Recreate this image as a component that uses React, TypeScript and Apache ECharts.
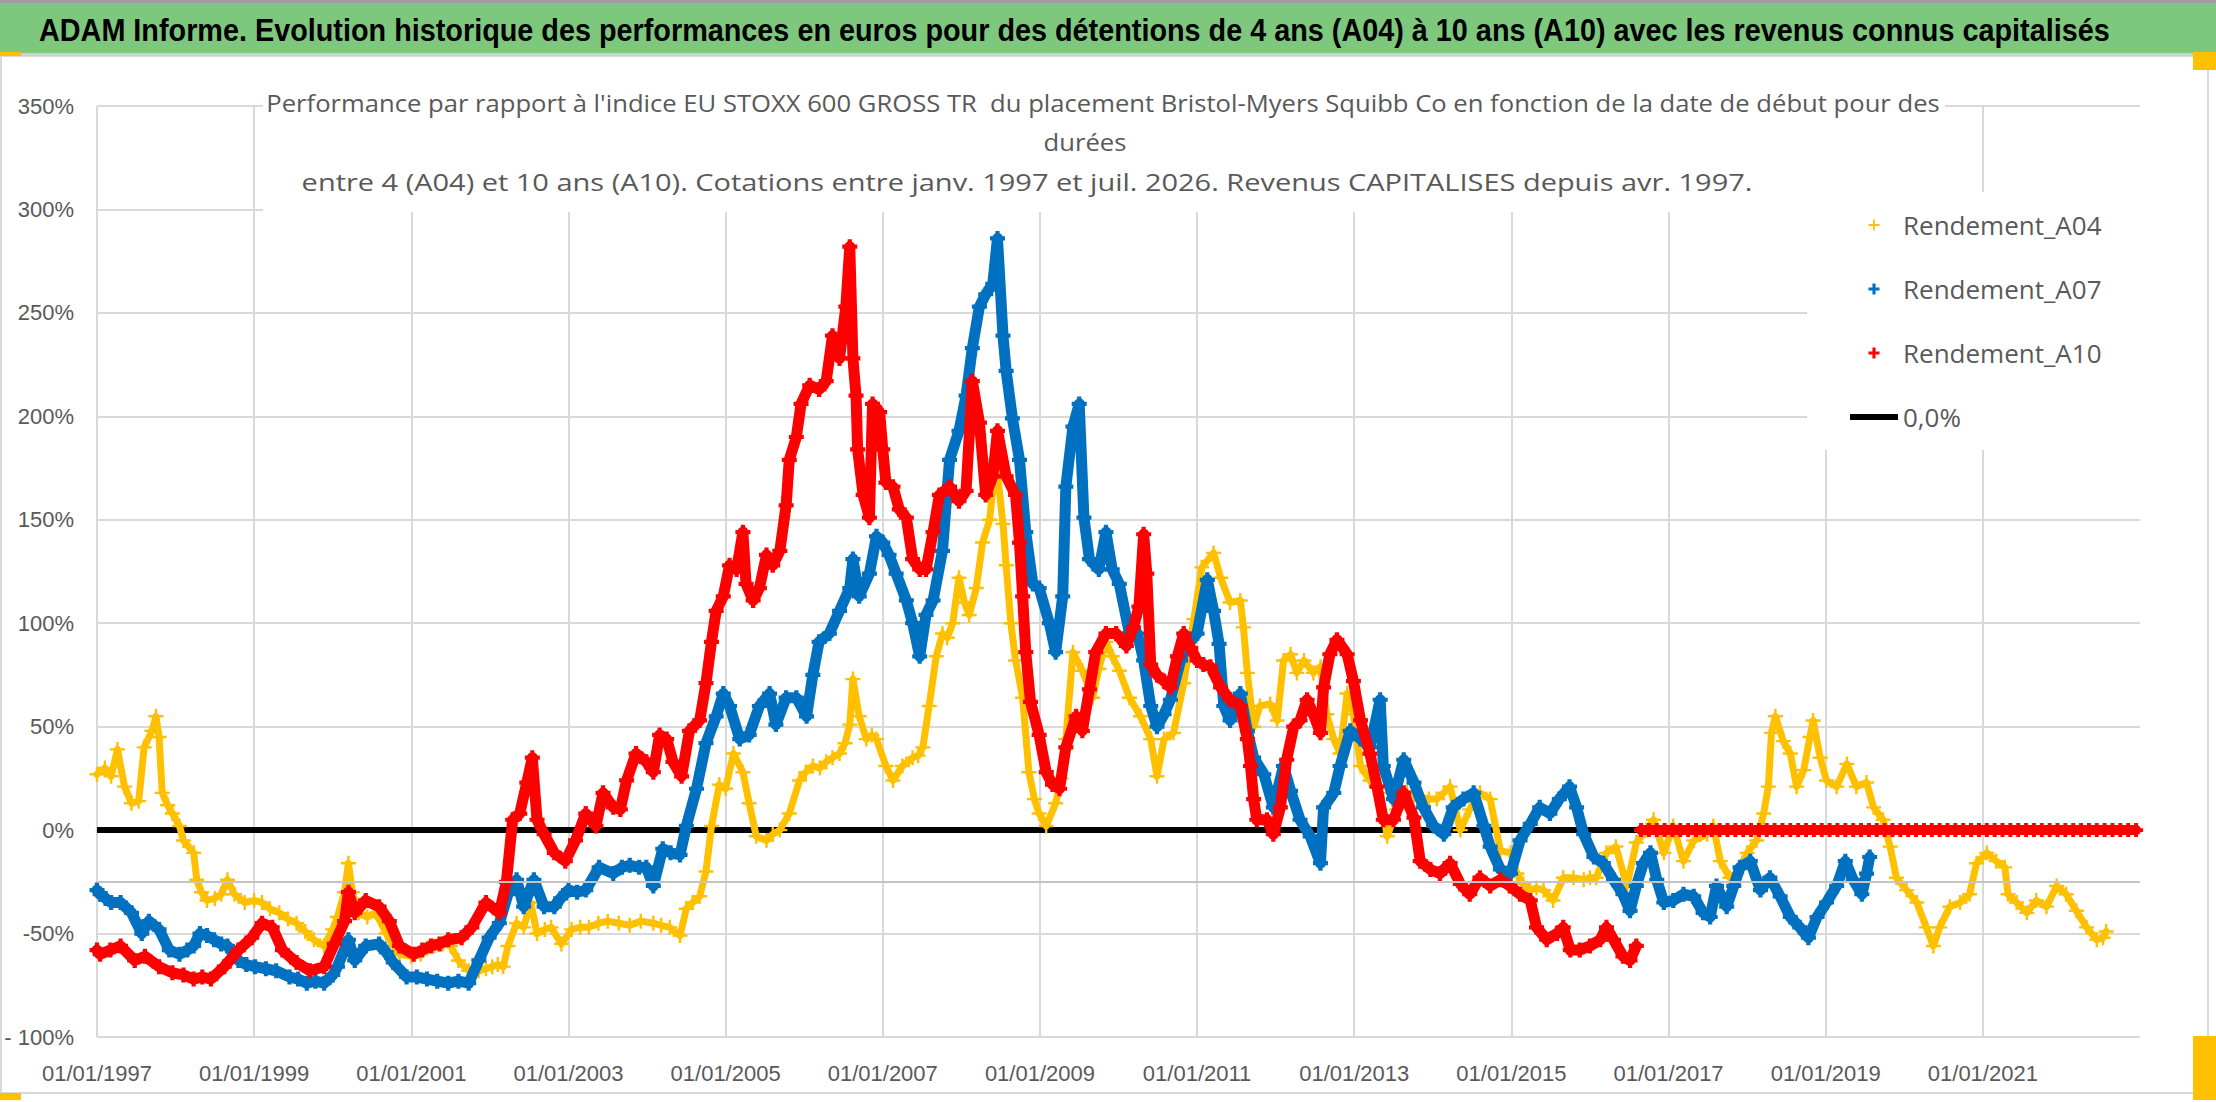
import React, { useEffect, useRef } from "react";
import * as echarts from "echarts";

// ---- Data (year as decimal, value in %) ----
const A04: [number, number][] = [
  [1997.0, 27], [1997.1, 30], [1997.18, 26], [1997.26, 39], [1997.35, 21], [1997.44, 13], [1997.53, 14], [1997.6, 40],
  [1997.7, 48], [1997.75, 55], [1997.79, 45], [1997.83, 18], [1997.9, 12], [1997.96, 8], [1998.05, 2], [1998.1, -5],
  [1998.23, -11], [1998.27, -24], [1998.33, -30], [1998.4, -34], [1998.5, -33], [1998.58, -31], [1998.66, -24], [1998.75, -31],
  [1998.88, -35], [1999.0, -34], [1999.1, -35], [1999.2, -38], [1999.32, -40], [1999.43, -43], [1999.54, -45], [1999.65, -49],
  [1999.76, -53], [1999.89, -56], [2000.0, -48], [2000.06, -42], [2000.15, -30], [2000.2, -16], [2000.25, -30], [2000.33, -40],
  [2000.44, -42], [2000.55, -40], [2000.68, -50], [2000.77, -56], [2000.85, -60], [2001.0, -61], [2001.12, -60], [2001.2, -57],
  [2001.29, -56], [2001.4, -55], [2001.5, -56], [2001.6, -63], [2001.73, -68], [2001.86, -68], [2001.95, -67], [2002.03, -66],
  [2002.1, -65], [2002.17, -66], [2002.23, -56], [2002.34, -45], [2002.43, -47], [2002.52, -35], [2002.6, -50], [2002.7, -48],
  [2002.78, -47], [2002.91, -55], [2003.04, -48], [2003.15, -47], [2003.26, -47], [2003.38, -45], [2003.5, -44], [2003.64, -45],
  [2003.78, -46], [2003.92, -44], [2004.08, -45], [2004.18, -46], [2004.29, -47], [2004.42, -51], [2004.5, -38], [2004.58, -35],
  [2004.67, -32], [2004.75, -20], [2004.82, 2], [2004.92, 22], [2005.0, 20], [2005.1, 37], [2005.22, 28], [2005.3, 13],
  [2005.39, -3], [2005.52, -5], [2005.6, -2], [2005.69, 0], [2005.81, 8], [2005.94, 24], [2006.02, 28], [2006.11, 31],
  [2006.2, 30], [2006.28, 33], [2006.36, 35], [2006.45, 37], [2006.52, 42], [2006.58, 51], [2006.62, 73], [2006.7, 55],
  [2006.79, 44], [2006.86, 46], [2006.92, 44], [2007.04, 31], [2007.13, 24], [2007.25, 31], [2007.38, 35], [2007.45, 36],
  [2007.51, 40], [2007.59, 60], [2007.68, 84], [2007.76, 95], [2007.82, 93], [2007.89, 100], [2007.97, 122], [2008.04, 110],
  [2008.1, 104], [2008.19, 117], [2008.27, 139], [2008.36, 150], [2008.44, 179], [2008.53, 148], [2008.57, 128], [2008.63, 100],
  [2008.69, 82], [2008.78, 64], [2008.86, 28], [2008.93, 15], [2008.99, 8], [2009.08, 2], [2009.2, 13], [2009.27, 25],
  [2009.33, 44], [2009.42, 86], [2009.54, 77], [2009.67, 64], [2009.75, 78], [2009.84, 91], [2009.92, 84], [2010.01, 77],
  [2010.14, 64], [2010.28, 55], [2010.41, 44], [2010.49, 26], [2010.58, 44], [2010.7, 47], [2010.83, 71], [2010.96, 102],
  [2011.06, 127], [2011.21, 134], [2011.3, 122], [2011.42, 110], [2011.55, 111], [2011.59, 98], [2011.64, 76], [2011.72, 50],
  [2011.8, 60], [2011.93, 61], [2012.02, 53], [2012.1, 82], [2012.19, 85], [2012.27, 76], [2012.36, 82], [2012.48, 76],
  [2012.57, 79], [2012.65, 56], [2012.74, 44], [2012.82, 37], [2012.91, 66], [2012.99, 56], [2013.08, 31], [2013.2, 24],
  [2013.33, 18], [2013.42, -3], [2013.54, 10], [2013.67, 18], [2013.76, 17], [2013.84, 16], [2013.95, 15], [2014.05, 15],
  [2014.14, 18], [2014.22, 21], [2014.35, 0], [2014.47, 10], [2014.6, 18], [2014.73, 15], [2014.86, -10], [2014.99, -11],
  [2015.07, -21], [2015.15, -26], [2015.24, -29], [2015.32, -28], [2015.41, -29], [2015.53, -34], [2015.66, -23], [2015.79, -23],
  [2015.92, -24], [2016.0, -23], [2016.08, -23], [2016.21, -11], [2016.33, -8], [2016.47, -27], [2016.59, -6], [2016.72, 0],
  [2016.81, 5], [2016.94, -11], [2017.06, 2], [2017.19, -15], [2017.32, -5], [2017.49, -2], [2017.57, 2], [2017.66, -15],
  [2017.78, -23], [2017.87, -21], [2018.0, -11], [2018.12, -5], [2018.21, 8], [2018.27, 21], [2018.31, 47], [2018.36, 55],
  [2018.46, 43], [2018.55, 37], [2018.63, 21], [2018.72, 29], [2018.8, 45], [2018.84, 53], [2018.93, 35], [2019.01, 24],
  [2019.14, 21], [2019.27, 32], [2019.39, 21], [2019.52, 23], [2019.61, 11], [2019.73, 5], [2019.82, -8], [2019.9, -23],
  [2020.03, -29], [2020.16, -35], [2020.28, -47], [2020.37, -56], [2020.45, -47], [2020.58, -37], [2020.71, -35], [2020.83, -31],
  [2020.92, -16], [2021.05, -11], [2021.17, -15], [2021.28, -18], [2021.32, -31], [2021.43, -35], [2021.56, -40], [2021.68, -34],
  [2021.81, -37], [2021.94, -27], [2022.06, -31], [2022.19, -39], [2022.32, -47], [2022.45, -53], [2022.53, -52], [2022.57, -49],
];

const A07: [number, number][] = [
  [1997.0, -29], [1997.04, -31], [1997.11, -33], [1997.18, -35], [1997.3, -35], [1997.44, -40], [1997.57, -50], [1997.66, -44],
  [1997.79, -48], [1997.92, -58], [1998.05, -60], [1998.15, -58], [1998.23, -56], [1998.31, -50], [1998.4, -51], [1998.49, -53],
  [1998.58, -55], [1998.66, -56], [1998.8, -63], [1998.9, -65], [1999.01, -66], [1999.15, -67], [1999.28, -68], [1999.45, -71],
  [1999.56, -72], [1999.67, -74], [1999.78, -73], [1999.89, -74], [2000.0, -70], [2000.06, -66], [2000.2, -53], [2000.28, -63],
  [2000.42, -56], [2000.59, -55], [2000.68, -59], [2000.77, -64], [2000.94, -71], [2001.07, -71], [2001.2, -72], [2001.33, -73],
  [2001.47, -74], [2001.6, -73], [2001.73, -74], [2001.86, -63], [2001.99, -52], [2002.12, -45], [2002.23, -31], [2002.34, -24],
  [2002.43, -37], [2002.56, -24], [2002.69, -37], [2002.82, -37], [2002.9, -33], [2003.0, -29], [2003.11, -30], [2003.22, -29],
  [2003.39, -18], [2003.57, -21], [2003.68, -18], [2003.78, -17], [2003.9, -18], [2003.99, -18], [2004.08, -27], [2004.2, -9],
  [2004.3, -11], [2004.42, -12], [2004.5, 2], [2004.63, 20], [2004.75, 42], [2004.88, 55], [2004.97, 66], [2005.05, 60],
  [2005.18, 44], [2005.3, 46], [2005.43, 60], [2005.56, 66], [2005.64, 51], [2005.77, 64], [2005.9, 64], [2006.03, 55],
  [2006.11, 75], [2006.19, 91], [2006.32, 95], [2006.45, 106], [2006.58, 117], [2006.62, 131], [2006.7, 113], [2006.83, 124],
  [2006.92, 142], [2007.0, 139], [2007.08, 133], [2007.17, 124], [2007.3, 111], [2007.38, 100], [2007.47, 84], [2007.55, 104],
  [2007.64, 111], [2007.76, 135], [2007.85, 179], [2007.97, 193], [2008.06, 210], [2008.14, 233], [2008.23, 253], [2008.31, 259],
  [2008.4, 264], [2008.46, 286], [2008.53, 239], [2008.57, 222], [2008.65, 199], [2008.74, 179], [2008.82, 144], [2008.91, 119],
  [2008.99, 117], [2009.12, 100], [2009.2, 86], [2009.29, 113], [2009.33, 166], [2009.42, 195], [2009.5, 206], [2009.56, 151],
  [2009.63, 131], [2009.75, 126], [2009.84, 144], [2009.92, 126], [2010.01, 119], [2010.14, 95], [2010.24, 95], [2010.32, 82],
  [2010.41, 60], [2010.49, 50], [2010.58, 56], [2010.66, 63], [2010.79, 82], [2010.87, 89], [2011.0, 95], [2011.13, 121],
  [2011.21, 106], [2011.28, 90], [2011.34, 60], [2011.42, 53], [2011.55, 66], [2011.64, 48], [2011.72, 35], [2011.85, 27],
  [2011.97, 11], [2012.1, 31], [2012.19, 19], [2012.31, 5], [2012.44, -3], [2012.57, -16], [2012.61, 11], [2012.74, 18],
  [2012.82, 31], [2012.95, 48], [2013.08, 44], [2013.2, 40], [2013.33, 63], [2013.37, 31], [2013.5, 15], [2013.63, 34],
  [2013.76, 23], [2013.88, 11], [2014.01, 2], [2014.14, -2], [2014.26, 11], [2014.39, 15], [2014.52, 18], [2014.65, 2],
  [2014.73, -8], [2014.86, -19], [2014.99, -21], [2015.11, -5], [2015.24, 3], [2015.36, 11], [2015.49, 8], [2015.61, 15],
  [2015.74, 21], [2015.83, 11], [2015.92, -2], [2016.05, -13], [2016.17, -16], [2016.3, -24], [2016.42, -31], [2016.51, -39],
  [2016.59, -27], [2016.68, -16], [2016.77, -11], [2016.85, -24], [2016.94, -35], [2017.06, -34], [2017.19, -31], [2017.32, -32],
  [2017.44, -40], [2017.53, -42], [2017.61, -27], [2017.74, -37], [2017.83, -27], [2017.91, -18], [2018.04, -15], [2018.17, -29],
  [2018.29, -23], [2018.42, -32], [2018.55, -42], [2018.67, -47], [2018.78, -52], [2018.89, -42], [2019.01, -35], [2019.14, -27],
  [2019.25, -15], [2019.35, -24], [2019.46, -31], [2019.52, -21], [2019.56, -13],
];

const A10: [number, number][] = [
  [1997.0, -58], [1997.04, -60], [1997.17, -58], [1997.3, -56], [1997.48, -63], [1997.61, -61], [1997.79, -66], [1997.96, -69],
  [1998.1, -70], [1998.23, -72], [1998.34, -71], [1998.45, -72], [1998.62, -66], [1998.8, -58], [1998.97, -52], [1999.1, -45],
  [1999.23, -47], [1999.36, -58], [1999.54, -64], [1999.71, -68], [1999.89, -66], [2000.02, -55], [2000.15, -44], [2000.2, -30],
  [2000.28, -40], [2000.42, -34], [2000.59, -37], [2000.72, -44], [2000.85, -56], [2001.03, -60], [2001.14, -58], [2001.25, -56],
  [2001.36, -55], [2001.47, -53], [2001.64, -52], [2001.77, -47], [2001.95, -35], [2002.12, -40], [2002.21, -25], [2002.29, 5],
  [2002.38, 8], [2002.47, 23], [2002.54, 35], [2002.6, 5], [2002.69, -2], [2002.82, -11], [2002.96, -15], [2003.09, -5],
  [2003.22, 8], [2003.35, 2], [2003.44, 18], [2003.57, 11], [2003.66, 10], [2003.74, 24], [2003.86, 37], [2003.99, 33],
  [2004.08, 28], [2004.16, 46], [2004.25, 44], [2004.33, 33], [2004.44, 26], [2004.54, 48], [2004.67, 53], [2004.75, 71],
  [2004.82, 91], [2004.88, 106], [2004.97, 113], [2005.05, 128], [2005.14, 126], [2005.22, 144], [2005.26, 119], [2005.35, 111],
  [2005.43, 117], [2005.52, 133], [2005.6, 128], [2005.69, 135], [2005.77, 157], [2005.81, 179], [2005.9, 190], [2005.96, 206],
  [2006.07, 215], [2006.19, 213], [2006.28, 217], [2006.36, 239], [2006.45, 228], [2006.53, 253], [2006.58, 282], [2006.62, 228],
  [2006.66, 210], [2006.68, 184], [2006.75, 162], [2006.83, 151], [2006.87, 206], [2006.96, 202], [2007.0, 184], [2007.04, 168],
  [2007.13, 166], [2007.21, 155], [2007.3, 151], [2007.38, 131], [2007.47, 126], [2007.55, 126], [2007.64, 144], [2007.72, 162],
  [2007.85, 166], [2007.97, 159], [2008.06, 164], [2008.14, 217], [2008.23, 197], [2008.31, 162], [2008.4, 171], [2008.46, 193],
  [2008.57, 171], [2008.69, 162], [2008.74, 139], [2008.78, 113], [2008.82, 86], [2008.88, 62], [2008.99, 46], [2009.08, 28],
  [2009.16, 22], [2009.25, 20], [2009.33, 40], [2009.46, 55], [2009.54, 48], [2009.63, 68], [2009.71, 86], [2009.84, 95],
  [2009.97, 95], [2010.1, 89], [2010.19, 98], [2010.26, 108], [2010.32, 143], [2010.36, 124], [2010.41, 80], [2010.49, 75],
  [2010.58, 72], [2010.66, 69], [2010.75, 84], [2010.83, 95], [2010.92, 88], [2011.0, 82], [2011.08, 80], [2011.17, 79],
  [2011.3, 69], [2011.42, 63], [2011.55, 60], [2011.64, 44], [2011.68, 31], [2011.72, 15], [2011.76, 5], [2011.89, 5],
  [2011.97, -2], [2012.06, 11], [2012.14, 34], [2012.23, 50], [2012.31, 53], [2012.4, 63], [2012.48, 56], [2012.57, 47],
  [2012.61, 69], [2012.69, 85], [2012.78, 92], [2012.91, 85], [2012.99, 72], [2013.08, 53], [2013.2, 37], [2013.29, 21],
  [2013.37, 5], [2013.5, 5], [2013.63, 18], [2013.76, 6], [2013.84, -15], [2013.97, -19], [2014.09, -21], [2014.22, -16],
  [2014.35, -26], [2014.47, -31], [2014.6, -23], [2014.73, -27], [2014.86, -24], [2014.98, -27], [2015.11, -31], [2015.24, -34],
  [2015.32, -47], [2015.45, -53], [2015.58, -50], [2015.66, -47], [2015.75, -58], [2015.87, -58], [2016.0, -56], [2016.13, -53],
  [2016.21, -47], [2016.3, -53], [2016.42, -61], [2016.51, -63], [2016.59, -56],
];

const A10_TAIL: [number, number][] = [
  [2016.65, 0], [2016.75, 0], [2016.85, 0], [2016.95, 0], [2017.05, 0], [2017.15, 0], [2017.25, 0], [2017.35, 0],
  [2017.45, 0], [2017.55, 0], [2017.65, 0], [2017.75, 0], [2017.85, 0], [2017.95, 0], [2018.05, 0], [2018.15, 0],
  [2018.25, 0], [2018.35, 0], [2018.45, 0], [2018.55, 0], [2018.65, 0], [2018.75, 0], [2018.85, 0], [2018.95, 0],
  [2019.05, 0], [2019.15, 0], [2019.25, 0], [2019.35, 0], [2019.45, 0], [2019.55, 0], [2019.65, 0], [2019.75, 0],
  [2019.85, 0], [2019.95, 0], [2020.05, 0], [2020.15, 0], [2020.25, 0], [2020.35, 0], [2020.45, 0], [2020.55, 0],
  [2020.65, 0], [2020.75, 0], [2020.85, 0], [2020.95, 0], [2021.05, 0], [2021.15, 0], [2021.25, 0], [2021.35, 0],
  [2021.45, 0], [2021.55, 0], [2021.65, 0], [2021.75, 0], [2021.85, 0], [2021.95, 0], [2022.05, 0], [2022.15, 0],
  [2022.25, 0], [2022.35, 0], [2022.45, 0], [2022.55, 0], [2022.65, 0], [2022.75, 0], [2022.85, 0], [2022.95, 0],
];

const ZERO_LINE: [number, number][] = [[1997, 0], [2023, 0]];
const GUIDE_LEVEL = -25;

const SERIES_NAMES = ["Rendement_A04", "Rendement_A07", "Rendement_A10", "0,0%"];
const COLORS = ["#FFC000", "#0070C0", "#FF0000", "#000000"];

const X_MIN = 1997;
const X_MAX = 2023;
const X_STEP = 2;
const Y_MIN = -100;
const Y_MAX = 350;
const Y_STEP = 50;

const TITLE = "ADAM Informe. Evolution historique des performances en euros pour des détentions de 4 ans (A04) à 10 ans (A10) avec les revenus connus capitalisés";
const SUBTITLE_LINES = [
  "Performance par rapport à l'indice EU STOXX 600 GROSS TR  du placement Bristol-Myers Squibb Co en fonction de la date de début pour des",
  "durées",
  "entre 4 (A04) et 10 ans (A10). Cotations entre janv. 1997 et juil. 2026. Revenus CAPITALISES depuis avr. 1997.",
];

const PLUS_THIN = "path://M4.2,0h1.6v4.2h4.2v1.6h-4.2v4.2h-1.6v-4.2h-4.2v-1.6h4.2z";
const PLUS_THICK = "path://M3.6,0h2.8v3.6h3.6v2.8h-3.6v3.6h-2.8v-3.6h-3.6v-2.8h3.6z";

const GREY_TEXT = "#595959";
const GRID_COLOR = "#d9d9d9";

const TITLE_FONT = 'bold 32px "Liberation Sans"';
const SUB_FONT = '24px "Open Sans"';

function measure(text: string, font: string): number {
  const ctx = document.createElement("canvas").getContext("2d");
  if (!ctx) return 1;
  ctx.font = font;
  return ctx.measureText(text).width || 1;
}

function pointSeries(name: string, data: [number, number][], color: string, symbol: string, z: number, width: number, size: number) {
  return [
    {
      name: name + "_trace",
      type: "line",
      data,
      z,
      showSymbol: false,
      symbol: "none",
      lineStyle: { color, width, join: "round", cap: "round" },
      silent: true,
    },
    {
      name,
      type: "scatter",
      data,
      z,
      symbol,
      symbolSize: size,
      itemStyle: { color, opacity: 1 },
      silent: true,
    },
  ];
}

export default function App() {
  const ref = useRef<HTMLDivElement>(null);
  useEffect(() => {
    if (!ref.current) return;
    const chart = echarts.init(ref.current, null, { renderer: "svg" });
    const titleScale = 2072 / measure(TITLE, TITLE_FONT);
    const baseSub = 1674 / measure(SUBTITLE_LINES[0], SUB_FONT);
    const subScales = [baseSub, baseSub, 1451 / measure(SUBTITLE_LINES[2], SUB_FONT)];
    const option: any = {
      animation: false,
      backgroundColor: "#ffffff",
      grid: { left: 97, top: 106, width: 2043, height: 931, containLabel: false },
      xAxis: {
        type: "value",
        min: X_MIN,
        max: X_MAX,
        interval: X_STEP,
        axisLine: { show: true, lineStyle: { color: GRID_COLOR, width: 3 } },
        axisTick: { show: false },
        splitLine: { show: true, showMaxLine: false, lineStyle: { color: GRID_COLOR, width: 2 } },
        axisLabel: {
          showMaxLabel: false,
          margin: 25,
          color: GREY_TEXT,
          fontFamily: "Liberation Sans",
          fontSize: 22,
          formatter: (v: number) => `01/01/${v}`,
        },
      },
      yAxis: {
        type: "value",
        min: Y_MIN,
        max: Y_MAX,
        interval: Y_STEP,
        axisLine: { show: false },
        axisTick: { show: false },
        splitLine: { show: true, lineStyle: { color: GRID_COLOR, width: 2 } },
        axisLabel: {
          margin: 23,
          color: GREY_TEXT,
          fontFamily: "Liberation Sans",
          fontSize: 22,
          formatter: (v: number) => (v === -100 ? "- 100%" : `${v}%`),
        },
      },
      legend: {
        data: [
          { name: SERIES_NAMES[0], icon: PLUS_THIN },
          { name: SERIES_NAMES[1], icon: PLUS_THICK },
          { name: SERIES_NAMES[2], icon: PLUS_THICK },
          { name: SERIES_NAMES[3], itemStyle: { opacity: 0 }, lineStyle: { width: 6, color: "#000000" } },
        ],
        orient: "vertical",
        left: 1807,
        top: 192,
        padding: [16, 40, 16, 40],
        backgroundColor: "#ffffff",
        itemWidth: 48,
        itemHeight: 11,
        itemGap: 30,
        selectedMode: false,
        textStyle: { color: GREY_TEXT, fontFamily: "Open Sans", fontSize: 26, lineHeight: 34 },
      },
      graphic: [
        { type: "rect", z: 20, shape: { x: 0, y: 0, width: 2216, height: 3 }, style: { fill: "#9e9e9e" } },
        { type: "rect", z: 20, shape: { x: 0, y: 3, width: 2216, height: 50 }, style: { fill: "#7EC87E" } },
        { type: "rect", z: 20, shape: { x: 0, y: 53, width: 2216, height: 3 }, style: { fill: "#cfcfcf" } },
        {
          type: "text",
          z: 21,
          x: 39,
          y: 29,
          scaleX: titleScale,
          style: {
            text: TITLE,
            font: TITLE_FONT,
            fill: "#000000",
            textAlign: "left",
            textVerticalAlign: "middle",
            align: "left",
            verticalAlign: "middle",
          },
        },
        { type: "rect", z: 1, shape: { x: 1, y: 56, width: 2207, height: 1037 }, style: { fill: "none", stroke: GRID_COLOR, lineWidth: 2 } },
        { type: "rect", z: 5, shape: { x: 263, y: 88, width: 1682, height: 124 }, style: { fill: "#ffffff" } },
        ...SUBTITLE_LINES.map((t, i) => ({
          type: "text",
          z: 6,
          x: [1103, 1085, 1027][i],
          y: [102, 141, 182][i],
          scaleX: subScales[i],
          style: {
            text: t,
            font: SUB_FONT,
            fill: GREY_TEXT,
            textAlign: "center",
            textVerticalAlign: "middle",
            align: "center",
            verticalAlign: "middle",
          },
        })),
        { type: "rect", z: 22, shape: { x: 0, y: 52, width: 21, height: 4 }, style: { fill: "#FFC000" } },
        { type: "rect", z: 22, shape: { x: 2193, y: 52, width: 23, height: 18 }, style: { fill: "#FFC000" } },
        { type: "rect", z: 22, shape: { x: 2193, y: 1036, width: 23, height: 64 }, style: { fill: "#FFC000" } },
        { type: "rect", z: 22, shape: { x: 0, y: 1093, width: 21, height: 7 }, style: { fill: "#FFC000" } },
      ],
      series: [
        {
          name: SERIES_NAMES[3],
          type: "line",
          data: ZERO_LINE,
          z: 1,
          showSymbol: false,
          symbol: "none",
          lineStyle: { color: COLORS[3], width: 6 },
          itemStyle: { color: COLORS[3] },
          silent: true,
          markLine: {
            silent: true,
            symbol: "none",
            label: { show: false },
            lineStyle: { color: "#c4c4c4", width: 2, type: "solid" },
            data: [{ yAxis: GUIDE_LEVEL }],
          },
        },
        ...pointSeries(SERIES_NAMES[0], A04, COLORS[0], PLUS_THIN, 2, 7, 15),
        ...pointSeries(SERIES_NAMES[1], A07, COLORS[1], PLUS_THICK, 3, 11, 15),
        ...pointSeries(SERIES_NAMES[2], A10, COLORS[2], PLUS_THICK, 4, 11, 15),
        ...pointSeries(SERIES_NAMES[2], A10_TAIL, COLORS[2], PLUS_THICK, 4, 10, 14),
      ],
    };
    chart.setOption(option);
    return () => chart.dispose();
  }, []);
  return <div ref={ref} style={{ position: "absolute", left: 0, top: 0, width: 2216, height: 1102 }} />;
}
